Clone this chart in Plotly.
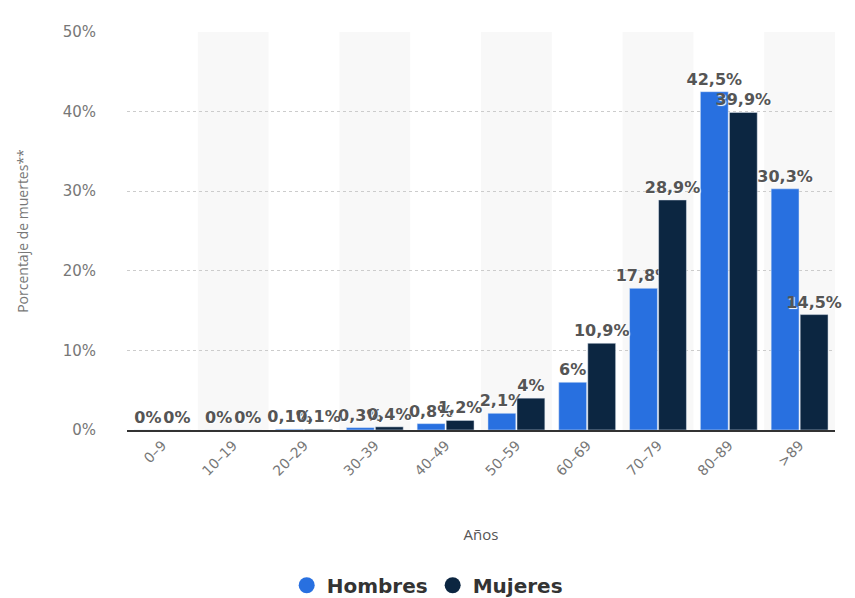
import plotly.graph_objects as go

categories = ["0–9", "10–19", "20–29", "30–39", "40–49", "50–59", "60–69", "70–79", "80–89", ">89"]
hombres = [0, 0, 0.1, 0.3, 0.8, 2.1, 6, 17.8, 42.5, 30.3]
mujeres = [0, 0, 0.1, 0.4, 1.2, 4, 10.9, 28.9, 39.9, 14.5]
y_ticks = [0, 10, 20, 30, 40, 50]
y_ticktext = ["0%", "10%", "20%", "30%", "40%", "50%"]

C_H = "#2870e0"
C_M = "#0c2641"


def fmt(v):
    return f"{v:g}".replace(".", ",") + "%"


label_font = dict(family="DejaVu Sans", size=16, color="#555555", weight="bold",
                  shadow="1px 1px 1px white")

fig = go.Figure()
fig.add_trace(go.Bar(x=categories, y=hombres, name="Hombres", marker_color=C_H,
                     text=[fmt(v) for v in hombres], textposition="outside",
                     constraintext="none", textangle=0,
                     textfont=label_font, cliponaxis=False, showlegend=False))
fig.add_trace(go.Bar(x=categories, y=mujeres, name="Mujeres", marker_color=C_M,
                     text=[fmt(v) for v in mujeres], textposition="outside",
                     constraintext="none", textangle=0,
                     textfont=label_font, cliponaxis=False, showlegend=False))
# legend entries with circle markers
fig.add_trace(go.Scatter(x=[None], y=[None], mode="markers", name="Hombres",
                         marker=dict(color=C_H, size=16, symbol="circle")))
fig.add_trace(go.Scatter(x=[None], y=[None], mode="markers", name="Mujeres",
                         marker=dict(color=C_M, size=16, symbol="circle")))

shapes = []
for i in range(1, len(categories), 2):
    shapes.append(dict(type="rect", xref="x", yref="paper", x0=i - 0.5, x1=i + 0.5,
                       y0=0, y1=1, fillcolor="#f8f8f8", line_width=0, layer="below"))

fig.update_layout(
    width=855, height=598,
    margin=dict(l=127, r=20, t=32, b=168, autoexpand=False),
    paper_bgcolor="white", plot_bgcolor="white",
    barmode="group", bargap=0.18, bargroupgap=0.04,
    shapes=shapes,
    legend=dict(orientation="h", xref="paper", x=0.424, xanchor="center",
                yref="paper", y=-0.39, yanchor="middle",
                font=dict(family="DejaVu Sans", size=20, color="#333333", weight="bold"),
                itemsizing="trace", itemwidth=30),
    xaxis=dict(type="category", tickangle=-45, showgrid=False,
               tickfont=dict(family="DejaVu Sans", size=14, color="#777777"),
               showline=True, linecolor="#333333", linewidth=1.5,
               title=dict(text="Años", font=dict(family="Open Sans", size=15, color="#555555"),
                          standoff=52),
               ticks="", range=[-0.5, len(categories) - 0.5]),
    yaxis=dict(range=[0, 50], tickvals=y_ticks, ticktext=y_ticktext,
               tickfont=dict(family="DejaVu Sans", size=15, color="#777777"),
               showgrid=True, gridcolor="#cccccc", griddash="dot", gridwidth=1,
               zeroline=False, ticklabelstandoff=30,
               title=dict(text="Porcentaje de muertes**",
                          font=dict(family="Open Sans", size=14, color="#777777"),
                          standoff=30)),
)

fig.write_html("out.html")
